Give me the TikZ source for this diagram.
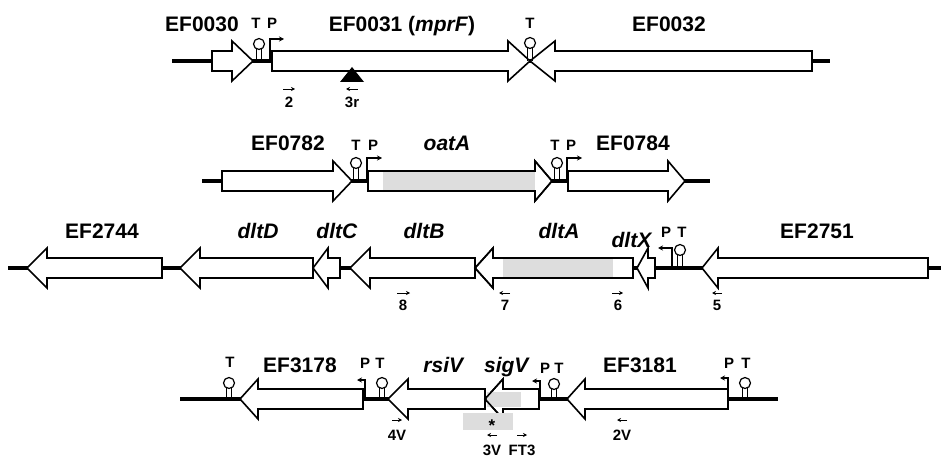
\documentclass[tikz,border=0pt]{standalone}
\usepackage{fontspec}
\setmainfont{Liberation Sans}
\usetikzlibrary{arrows.meta, positioning, calc}
\definecolor{shadegray}{RGB}{221, 221, 221}
\tikzset{
    dna/.style={line width=3.5pt, color=black},
    genebox/.style={draw=black, fill=white, line width=1.6pt, line join=miter},
    stem/.style={line width=1.2pt, color=black},
    promarrow/.style={-{Stealth[length=5pt, width=5pt]}, line width=1.2pt},
    primer/.style={-{Stealth[length=4pt, width=4pt]}, line width=0.9pt},
}
% gene arrow: tail x, head base x, tip x, centre y
\newcommand{\gene}[5][]{%
    \draw[genebox, #1] (#2,#5-10) -- (#3,#5-10) -- (#3,#5-20) -- (#4,#5)
        -- (#3,#5+20) -- (#3,#5+10) -- (#2,#5+10) -- cycle;}
% terminator hairpin: x, line y, loop y
\newcommand{\term}[3]{%
    \draw[stem] (#1-2.8,#2) -- (#1-2.8,#3+5) (#1+2.8,#2) -- (#1+2.8,#3+5);
    \draw[stem, fill=white] (#1,#3) circle[radius=5.5pt];}
% promoter: x, line y, top y, arrow end x
\newcommand{\prom}[4]{%
    \draw[promarrow] (#1,#2) -- (#1,#3) -- (#4,#3);}

\begin{document}
\begin{tikzpicture}[x=1pt, y=-1pt]
                \tikzstyle{genelabel}=[font=\fontsize{21}{24}\selectfont\bfseries, anchor=base, inner sep=0pt]
                \tikzstyle{sitelabel}=[font=\fontsize{15}{18}\selectfont\bfseries, anchor=base, inner sep=0pt]
                \useasboundingbox (0,0) rectangle (941,457);

                % mprF locus
                \draw[dna] (172,61) -- (830,61);
                \gene{212}{232}{253}{61}
                \gene{272}{508}{530}{61}
                \gene{812}{555}{530}{61}
                \fill (352,67) -- (364,82) -- (340,82) -- cycle;
                \term{259}{61}{44}
                \prom{270}{61}{39}{284}
                \term{530}{61}{43}
                \node[genelabel] (ef0030) at (202,32) {EF0030};
                \node[sitelabel] (t1) at (256,29) {T};
                \node[sitelabel] (p1) at (272,29) {P};
                \node[genelabel] (mprf) at (402,32) {EF0031 (\textit{mprF})};
                \node[sitelabel] (t2) at (530,29) {T};
                \node[genelabel] (ef0032) at (669,32) {EF0032};
                \node[sitelabel] (pr2) at (289,108) {2};
                \draw[primer] (283,89) -- (295,89);
                \node[sitelabel] (pr3r) at (352,108) {3r};
                \draw[primer] (358,89) -- (346,89);

                % oatA locus
                \draw[dna] (202,181) -- (710,181);
                \gene{222}{333}{352}{181}
                \gene{368}{535}{552}{181}
                \fill[shadegray] (383,172) rectangle (535,190);
                \gene[fill=none]{368}{535}{552}{181}
                \gene{568}{668}{685}{181}
                \term{356}{181}{163}
                \prom{367}{181}{158}{382}
                \term{557}{181}{163}
                \prom{567}{181}{158}{582}
                \node[genelabel] (ef0782) at (288,151) {EF0782};
                \node[sitelabel] (t3) at (356,150) {T};
                \node[sitelabel] (p3) at (373,150) {P};
                \node[genelabel] (oata) at (447,151) {\textit{oatA}};
                \node[sitelabel] (t4) at (555,150) {T};
                \node[sitelabel] (p4) at (571,150) {P};
                \node[genelabel] (ef0784) at (633,151) {EF0784};

                % dlt operon
                \draw[dna] (8,268) -- (941,268);
                \gene{162}{47}{27}{268}
                \gene{313}{200}{180}{268}
                \gene{340}{328}{313}{268}
                \gene{475}{370}{350}{268}
                \gene{633}{493}{475}{268}
                \fill[shadegray] (503,259) rectangle (613,277);
                \gene[fill=none]{633}{493}{475}{268}
                \gene{655}{648}{637}{268}
                \gene{928}{718}{702}{268}
                \prom{672}{268}{248}{658}
                \term{680}{268}{250}
                \node[genelabel] (ef2744) at (102,238) {EF2744};
                \node[genelabel] (dltd) at (258,238) {\textit{dltD}};
                \node[genelabel] (dltc) at (337,238) {\textit{dltC}};
                \node[genelabel] (dltb) at (424,238) {\textit{dltB}};
                \node[genelabel] (dlta) at (559,238) {\textit{dltA}};
                \node[genelabel] (dltx) at (632,247) {\textit{dltX}};
                \node[sitelabel] (p5) at (666,237) {P};
                \node[sitelabel] (t5) at (682,237) {T};
                \node[genelabel] (ef2751) at (817,238) {EF2751};
                \node[sitelabel] (pr8) at (403,310) {8};
                \draw[primer] (397,293) -- (410,293);
                \node[sitelabel] (pr7) at (505,310) {7};
                \draw[primer] (510,293) -- (499,293);
                \node[sitelabel] (pr6) at (618,310) {6};
                \draw[primer] (612,293) -- (623,293);
                \node[sitelabel] (pr5) at (717,310) {5};
                \draw[primer] (722,293) -- (712,293);

                % sigV locus
                \draw[dna] (180,399) -- (778,399);
                \gene{363}{258}{240}{399}
                \gene{485}{408}{388}{399}
                \gene{539}{503}{485}{399}
                \fill[shadegray] (487,392) rectangle (521,407);
                \gene[fill=none]{539}{503}{485}{399}
                \gene{728}{585}{567}{399}
                \term{229}{399}{383}
                \prom{365}{399}{380}{357}
                \term{382}{399}{383}
                \prom{540}{399}{381}{532}
                \term{554}{399}{384}
                \prom{728}{399}{378}{720}
                \term{745}{399}{383}
                \fill[shadegray] (463,413) rectangle (513,430);
                \node[sitelabel, font=\fontsize{17}{18}\selectfont\bfseries] (star) at (492,431) {*};
                \node[sitelabel] (t6) at (230,367) {T};
                \node[genelabel] (ef3178) at (300,372) {EF3178};
                \node[sitelabel] (p6) at (365,368) {P};
                \node[sitelabel] (t7) at (380,368) {T};
                \node[genelabel] (rsiv) at (444,372) {\textit{rsiV}};
                \node[genelabel] (sigv) at (507,372) {\textit{sigV}};
                \node[sitelabel] (p7) at (545,373) {P};
                \node[sitelabel] (t8) at (559,373) {T};
                \node[genelabel] (ef3181) at (640,372) {EF3181};
                \node[sitelabel] (p8) at (729,368) {P};
                \node[sitelabel] (t9) at (746,368) {T};
                \node[sitelabel] (pr4v) at (397,440) {4V};
                \draw[primer] (392,420) -- (402,420);
                \node[sitelabel] (pr3v) at (492,455) {3V};
                \draw[primer] (497,435) -- (487,435);
                \node[sitelabel] (prft3) at (522,455) {FT3};
                \draw[primer] (517,435) -- (527,435);
                \node[sitelabel] (pr2v) at (622,440) {2V};
                \draw[primer] (627,420) -- (617,420);
            \end{tikzpicture}
\end{document}
